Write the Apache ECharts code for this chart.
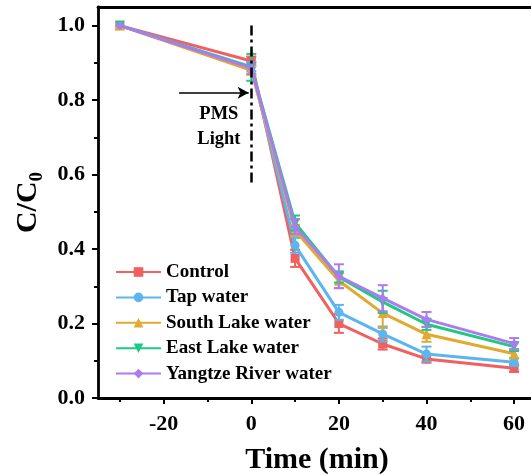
<!DOCTYPE html>
<html>
<head>
<meta charset="utf-8">
<script src="https://cdn.jsdelivr.net/npm/echarts@6/dist/echarts.min.js"></script>
<style>
  html, body { margin: 0; padding: 0; background: #fff; }
  #chart { width: 531px; height: 475px; }
</style>
</head>
<body>
<div id="chart"></div>
<script>
// Sampling times (min); PMS and light are introduced at t = 0
const times = [-30, 0, 10, 20, 30, 40, 60];

const seriesNames = ['Control', 'Tap water', 'South Lake water', 'East Lake water', 'Yangtze River water'];

// C/C0 for each water matrix
const controlVals = [1.0, 0.905, 0.375, 0.200, 0.145, 0.105, 0.080];
const tapVals     = [1.0, 0.890, 0.410, 0.230, 0.172, 0.118, 0.096];
const southVals   = [1.0, 0.880, 0.450, 0.315, 0.228, 0.171, 0.119];
const eastVals    = [1.0, 0.888, 0.470, 0.325, 0.258, 0.198, 0.138];
const yangtzeVals = [1.0, 0.886, 0.460, 0.327, 0.268, 0.211, 0.146];

// Standard deviations (error bars)
const controlErr = [0, 0.012, 0.023, 0.025, 0.015, 0.010, 0.010];
const tapErr     = [0, 0.012, 0.020, 0.020, 0.020, 0.020, 0.010];
const southErr   = [0, 0.012, 0.015, 0.020, 0.040, 0.020, 0.012];
const eastErr    = [0, 0.036, 0.020, 0.015, 0.030, 0.015, 0.012];
const yangtzeErr = [0, 0.015, 0.020, 0.032, 0.035, 0.020, 0.015];

const yTicks = [0, 0.2, 0.4, 0.6, 0.8, 1.0];
const yMinor = [0.1, 0.3, 0.5, 0.7, 0.9];
const xTicks = [-20, 0, 20, 40, 60];
const xMinor = [-30, -10, 10, 30, 50];

const colors = ['#f0605e', '#5bb6ef', '#e0a930', '#20c882', '#a97cf2'];
const symbols = ['rect', 'circle', 'triangle', 'path://M0,0 L10,0 L5,9 Z', 'diamond'];
const values = [controlVals, tapVals, southVals, eastVals, yangtzeVals];
const errors = [controlErr, tapErr, southErr, eastErr, yangtzeErr];

const FONT = "'Liberation Serif', 'Times New Roman', serif";
const AXIS_W = 2.8;

function errorBarSeries(idx) {
  const data = times.map((t, i) => [t, values[idx][i], errors[idx][i]]);
  return {
    type: 'custom',
    name: seriesNames[idx] + ' sd',
    data: data,
    z: 2 + idx,
    silent: true,
    renderItem: function (params, api) {
      const x = api.value(0), y = api.value(1), e = api.value(2);
      if (!e) return null;
      const top = api.coord([x, y + e]);
      const bot = api.coord([x, y - e]);
      const hw = 5;
      const style = { stroke: colors[idx], lineWidth: 2 };
      return {
        type: 'group',
        children: [
          { type: 'line', shape: { x1: top[0], y1: top[1], x2: bot[0], y2: bot[1] }, style: style },
          { type: 'line', shape: { x1: top[0] - hw, y1: top[1], x2: top[0] + hw, y2: top[1] }, style: style },
          { type: 'line', shape: { x1: bot[0] - hw, y1: bot[1], x2: bot[0] + hw, y2: bot[1] }, style: style }
        ]
      };
    }
  };
}

const lineSeries = seriesNames.map((name, idx) => ({
  type: 'line',
  name: name,
  data: times.map((t, i) => [t, values[idx][i]]),
  symbol: symbols[idx],
  symbolSize: idx === 2 || idx === 3 ? 10 : 9,
  showAllSymbol: true,
  color: colors[idx],
  lineStyle: { width: 3, color: colors[idx] },
  itemStyle: { color: colors[idx] },
  z: 2 + idx
}));

// Dash-dot marker for the start of the reaction, plus arrow
lineSeries[0].markLine = {
  silent: true,
  symbol: ['none', 'none'],
  label: { show: false },
  lineStyle: { color: '#000', width: 2.5, type: [10, 4, 3, 4] },
  data: [[{ coord: [0, 1.0] }, { coord: [0, 0.572] }]],
  z: 20
};
lineSeries[1].markLine = {
  silent: true,
  symbol: ['none', 'arrow'],
  symbolSize: [9, 11],
  label: { show: false },
  lineStyle: { color: '#000', width: 1.6, type: 'solid' },
  data: [[{ coord: [-16.5, 0.82] }, { coord: [-0.6, 0.82] }]],
  z: 20
};
lineSeries[2].markPoint = {
  silent: true,
  symbol: 'circle',
  symbolSize: 0,
  data: [{
    coord: [-7.4, 0.728],
    label: {
      show: true, position: 'inside', formatter: 'PMS\nLight',
      fontFamily: FONT, fontWeight: 'bold', fontSize: 18.5, lineHeight: 25, color: '#000'
    }
  }]
};

const axisLabelStyle = { fontFamily: FONT, fontWeight: 'bold', fontSize: 22, color: '#000' };

const option = {
  animation: false,
  backgroundColor: '#fff',
  grid: { left: 98, top: 7, width: 438, bottom: 77, containLabel: false, outerBoundsMode: 'none' },
  legend: {
    data: seriesNames,
    orient: 'vertical',
    left: 110,
    top: 257,
    itemWidth: 45,
    itemHeight: 12,
    itemGap: 5.4,
    textStyle: { fontFamily: FONT, fontWeight: 'bold', fontSize: 19, lineHeight: 20, color: '#000' },
    selectedMode: false
  },
  xAxis: [
    {
      type: 'value', position: 'bottom', min: -35, max: 65,
      axisLine: { show: true, onZero: false, lineStyle: { color: '#000', width: AXIS_W } },
      axisTick: { show: true, inside: false, length: 6, customValues: xTicks, lineStyle: { color: '#000', width: 2 } },
      axisLabel: Object.assign({ customValues: xTicks, margin: 15 }, axisLabelStyle),
      splitLine: { show: false },
      name: 'Time (min)', nameLocation: 'middle', nameGap: 47,
      nameTextStyle: { fontFamily: FONT, fontWeight: 'bold', fontSize: 30, color: '#000' }
    },
    {
      type: 'value', position: 'bottom', min: -35, max: 65,
      axisLine: { show: false, onZero: false },
      axisTick: { show: true, inside: false, length: 4, customValues: xMinor, lineStyle: { color: '#000', width: 2 } },
      axisLabel: { show: false },
      splitLine: { show: false }
    },
    {
      type: 'value', position: 'top', min: -35, max: 65,
      axisLine: { show: true, onZero: false, lineStyle: { color: '#000', width: AXIS_W } },
      axisTick: { show: false },
      axisLabel: { show: false },
      splitLine: { show: false }
    }
  ],
  yAxis: [
    {
      type: 'value', position: 'left', min: 0, max: 1.05,
      axisLine: { show: true, onZero: false, lineStyle: { color: '#000', width: AXIS_W } },
      axisTick: { show: true, inside: false, length: 6, customValues: yTicks, lineStyle: { color: '#000', width: 2 } },
      axisLabel: Object.assign({ customValues: yTicks, margin: 13, formatter: v => v.toFixed(1) }, axisLabelStyle),
      splitLine: { show: false },
      name: '{a|C/C}{b|0}', nameLocation: 'middle', nameGap: 51, nameRotate: 90,
      nameTextStyle: {
        rich: {
          a: { fontFamily: FONT, fontWeight: 'bold', fontSize: 30, color: '#000' },
          b: { fontFamily: FONT, fontWeight: 'bold', fontSize: 19, color: '#000', padding: [18, 0, 0, 0] }
        }
      }
    },
    {
      type: 'value', position: 'left', offset: 0, min: 0, max: 1.05,
      axisLine: { show: false, onZero: false },
      axisTick: { show: true, inside: false, length: 4, customValues: yMinor, lineStyle: { color: '#000', width: 2 } },
      axisLabel: { show: false },
      splitLine: { show: false }
    }
  ],
  series: lineSeries.concat(seriesNames.map((n, i) => errorBarSeries(i)))
};

const chart = echarts.init(document.getElementById('chart'), null, { renderer: 'canvas' });
chart.setOption(option);
</script>
</body>
</html>
